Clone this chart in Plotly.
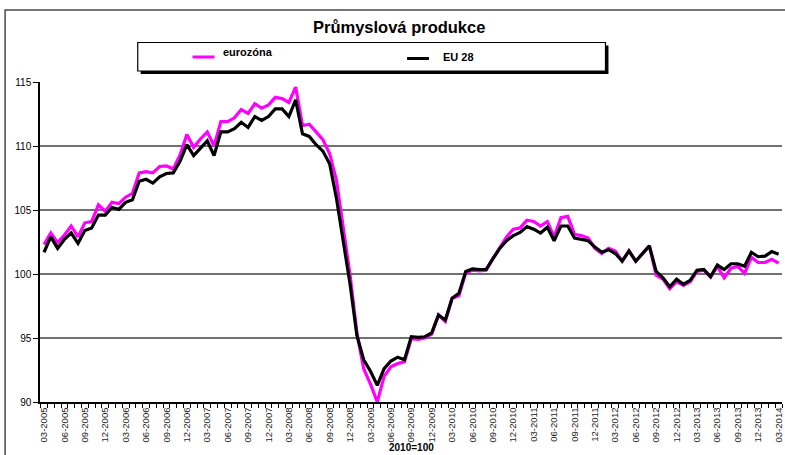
import plotly.graph_objects as go

# ---- data -------------------------------------------------------------
start_year, start_month, n_months = 2005, 3, 109
months = []
for k in range(n_months):
    m = start_month - 1 + k
    months.append(f"{m % 12 + 1:02d}-{start_year + m // 12}")

eurozona = [102.3, 103.2, 102.45, 103.05, 103.75, 102.9, 104.0, 104.1, 105.4, 104.9,
            105.6, 105.5, 106.0, 106.3, 107.9, 108.0, 107.9, 108.4, 108.45, 108.2,
            109.3, 110.9, 109.9, 110.55, 111.1, 110.0, 111.9, 111.9, 112.2, 112.85,
            112.55, 113.3, 112.95, 113.2, 113.8, 113.7, 113.4, 114.6, 111.6, 111.7,
            111.1, 110.5, 109.4, 107.3, 103.6, 99.9, 95.4, 92.6, 91.4, 90.0,
            92.0, 92.75, 93.0, 93.15, 94.95, 94.9, 95.0, 95.3, 96.8, 96.3,
            98.1, 98.3, 100.1, 100.3, 100.25, 100.3, 101.2, 102.1, 102.9, 103.5,
            103.6, 104.2, 104.1, 103.75, 104.1, 102.9, 104.4, 104.5, 103.1, 103.0,
            102.8, 102.0, 101.6, 102.0, 101.8, 101.0, 101.8, 101.0, 101.6, 102.2,
            99.9, 99.6, 98.85, 99.4, 99.1, 99.4, 100.2, 100.3, 99.75, 100.6,
            99.7, 100.45, 100.6, 100.05, 101.3, 100.9, 100.9, 101.15, 100.85]

eu28 = [101.7, 102.9, 102.0, 102.7, 103.2, 102.4, 103.4, 103.6, 104.6, 104.6,
        105.2, 105.05, 105.6, 105.8, 107.25, 107.4, 107.1, 107.6, 107.85, 107.9,
        108.8, 110.1, 109.25, 109.8, 110.4, 109.25, 111.1, 111.1, 111.35, 111.85,
        111.45, 112.3, 112.0, 112.3, 112.9, 112.9, 112.3, 113.6, 110.95, 110.75,
        110.1, 109.6, 108.6, 105.9, 102.6, 99.2, 95.2, 93.3, 92.4, 91.3,
        92.6, 93.2, 93.5, 93.3, 95.1, 95.05, 95.1, 95.4, 96.8, 96.4,
        98.1, 98.5, 100.2, 100.4, 100.35, 100.35, 101.2, 102.0, 102.6, 103.0,
        103.25, 103.7, 103.5, 103.2, 103.65, 102.6, 103.75, 103.75, 102.8, 102.7,
        102.6, 102.1, 101.7, 101.9, 101.6, 101.0, 101.8, 101.0, 101.6, 102.2,
        100.2, 99.7, 99.0, 99.6, 99.2, 99.5, 100.3, 100.35, 99.8, 100.7,
        100.35, 100.8, 100.8, 100.6, 101.7, 101.35, 101.4, 101.75, 101.55]

y_ticks = [90, 95, 100, 105, 110, 115]
label_step = 3
title_text = "Průmyslová produkce"
series_names = ["eurozóna", "EU 28"]
base_note = "2010=100"

# ---- figure -----------------------------------------------------------
W, H = 785, 455
L, R, T, B = 40, 1, 82, 53
PW, PH = W - L - R, H - T - B
FONT = "Liberation Sans, Arial, sans-serif"


def px(xp):
    return (xp - L) / PW


def py(yp):
    return 1 - (yp - T) / PH


idx = list(range(len(months)))
fig = go.Figure()
fig.add_trace(go.Scatter(x=idx, y=eurozona, mode="lines", name=series_names[0],
                         line=dict(color="#FF00FF", width=3.2), hoverinfo="skip"))
fig.add_trace(go.Scatter(x=idx, y=eu28, mode="lines", name=series_names[1],
                         line=dict(color="#000000", width=3.2), hoverinfo="skip"))

shapes = []
# outer chart frame
shapes.append(dict(type="rect", xref="paper", yref="paper",
                   x0=px(5), x1=px(800), y0=py(470), y1=py(10),
                   line=dict(color="#4a4a4a", width=1.5), fillcolor="rgba(0,0,0,0)", layer="below"))
# legend shadow + box
shapes.append(dict(type="rect", xref="paper", yref="paper",
                   x0=px(141), x1=px(610), y0=py(74), y1=py(45.5),
                   line=dict(color="#000", width=0), fillcolor="#000"))
shapes.append(dict(type="rect", xref="paper", yref="paper",
                   x0=px(138), x1=px(607), y0=py(71), y1=py(42.5),
                   line=dict(color="#000", width=1.2), fillcolor="#fff"))
# legend samples
shapes.append(dict(type="line", xref="paper", yref="paper",
                   x0=px(193), x1=px(215), y0=py(57), y1=py(57),
                   line=dict(color="#FF00FF", width=3)))
shapes.append(dict(type="line", xref="paper", yref="paper",
                   x0=px(408), x1=px(430), y0=py(58.5), y1=py(58.5),
                   line=dict(color="#000", width=3)))

annotations = [
    dict(text="<b>" + title_text + "</b>", xref="paper", yref="paper",
         x=px(400), y=py(27), showarrow=False, xanchor="center", yanchor="middle",
         font=dict(family=FONT, size=16.5, color="#000")),
    dict(text="<b>" + series_names[0] + "</b>", xref="paper", yref="paper",
         x=px(221), y=py(52), showarrow=False, xanchor="left", yanchor="middle",
         font=dict(family=FONT, size=11, color="#000")),
    dict(text="<b>" + series_names[1] + "</b>", xref="paper", yref="paper",
         x=px(442), y=py(57), showarrow=False, xanchor="left", yanchor="middle",
         font=dict(family=FONT, size=11, color="#000")),
    dict(text="<b>" + base_note + "</b>", xref="paper", yref="paper",
         x=px(412), y=py(447), showarrow=False, xanchor="center", yanchor="middle",
         font=dict(family=FONT, size=10, color="#000")),
]

fig.update_layout(
    width=W, height=H,
    margin=dict(l=L, r=R, t=T, b=B, pad=0),
    paper_bgcolor="#fff", plot_bgcolor="#fff",
    showlegend=False,
    shapes=shapes, annotations=annotations,
    xaxis=dict(
        range=[-0.59, len(months) - 0.5],
        tickmode="array", tickvals=idx[::label_step], ticktext=months[::label_step],
        tickangle=-90, ticks="", showgrid=False, zeroline=False,
        showline=True, linecolor="#000", linewidth=1.5,
        ticklabeloverflow="allow",
        tickfont=dict(family=FONT, size=9.5, color="#1a1a1a"),
        minor=dict(tickmode="linear", tick0=0.5, dtick=1, ticks="outside",
                   ticklen=4, tickcolor="#000", tickwidth=1, showgrid=False),
        fixedrange=True,
    ),
    yaxis=dict(
        range=[90, 115], tickmode="array", tickvals=y_ticks,
        ticks="outside", ticklen=5, tickcolor="#000", tickwidth=1,
        showline=True, linecolor="#000", linewidth=1.5,
        showgrid=True, gridcolor="#707070", gridwidth=1.5, zeroline=False,
        tickfont=dict(family=FONT, size=10, color="#000"),
        fixedrange=True,
    ),
)

fig.write_html("out.html", config={"displayModeBar": False},
               post_script="document.body.style.margin='0px';document.body.style.overflow='hidden';")
